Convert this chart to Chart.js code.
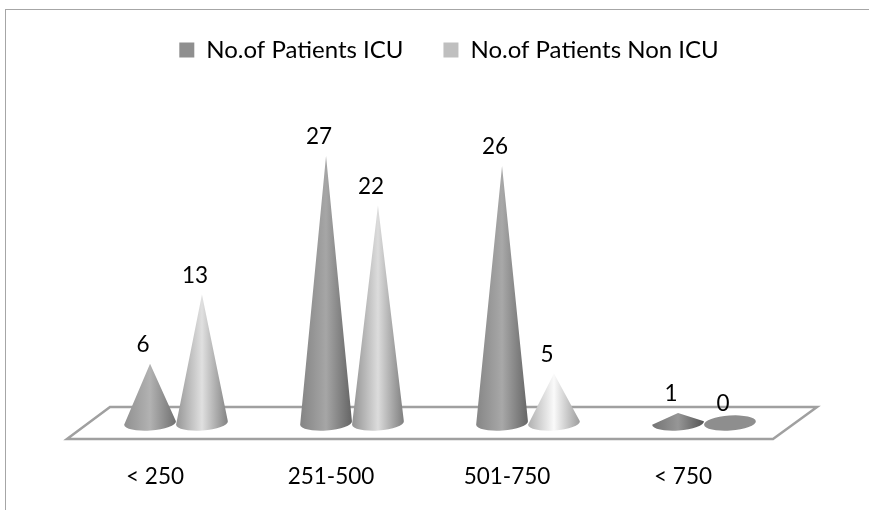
<!DOCTYPE html>
<html>
<head>
<meta charset="utf-8">
<script src="https://cdn.jsdelivr.net/npm/chart.js@4/dist/chart.umd.js"></script>
<style>
    html, body { margin: 0; padding: 0; background: #fff; overflow: hidden; }
    #wrap { position: relative; width: 869px; height: 510px; }
    #frame { position: absolute; left: 5px; top: 9px; right: 0; bottom: 0; border-left: 1px solid #a6a6a6; border-top: 1px solid #a6a6a6; }
    canvas { position: absolute; left: 0; top: 0; }
</style>
</head>
<body>
<div id="wrap">
    <div id="frame"></div>
    <canvas id="result-chart" width="869" height="510"></canvas>
</div>
<script>
const categories = ['< 250', '251-500', '501-750', '< 750'];
const icuValues = [6, 27, 26, 1];
const nonIcuValues = [13, 22, 5, 0];

// gray levels left / highlight / right, then a per cone brightness shift
const icuGrays = [140, 174, 108];
const nonIcuGrays = [152, 226, 132];
const icuShade = [4, -8, -6, -24];
const nonIcuShade = [-2, -6, 24, 0];
const FONT = { family: 'Lato', size: 22.5 };

function gray(v) {
    const g = Math.max(0, Math.min(255, Math.round(v)));
    return `rgb(${g},${g},${g})`;
}

class ConeController extends Chart.BarController {
    draw() {
        const ctx = this.chart.ctx;
        const ds = this.getDataset();
        this.getMeta().data.forEach((bar, i) => {
            const r = bar.width / 2;
            const shade = ds.shades[i];
            ctx.save();
            ctx.beginPath();
            ctx.moveTo(bar.x, bar.y);
            ctx.ellipse(bar.x, bar.base, r, 7.5, -0.07, Math.PI, 0, bar.y < bar.base - 8);
            if (bar.y >= bar.base - 8) {
                ctx.ellipse(bar.x, bar.base, r, 7.5, -0.07, 0, Math.PI);
            }
            ctx.closePath();
            if (ds.data[i] === 0) {
                ctx.fillStyle = '#8e8e8e';
            } else {
                const grad = ctx.createLinearGradient(bar.x - r, 0, bar.x + r, 0);
                grad.addColorStop(0, gray(ds.grays[0] + shade));
                grad.addColorStop(0.5, gray(ds.grays[1] + shade));
                grad.addColorStop(1, gray(ds.grays[2] + shade));
                ctx.fillStyle = grad;
            }
            ctx.fill();
            ctx.restore();
        });
    }
}
ConeController.id = 'cone';
ConeController.defaults = Chart.BarController.defaults;
ConeController.overrides = Chart.BarController.overrides;
Chart.register(ConeController);

const floorAndLabels = {
    id: 'floorAndLabels',
    afterLayout(chart) {
        chart.legend.left += 9;
        chart.legend.right += 9;
    },
    beforeDatasetsDraw(chart) {
        const { ctx, chartArea: a } = chart;
        ctx.save();
        ctx.strokeStyle = '#a0a0a0';
        ctx.lineWidth = 2.5;
        ctx.beginPath();
        ctx.moveTo(a.left - 21, a.bottom + 16);
        ctx.lineTo(a.left + 22, a.bottom - 16);
        ctx.lineTo(a.right + 25, a.bottom - 16);
        ctx.lineTo(a.right - 19, a.bottom + 16);
        ctx.closePath();
        ctx.stroke();
        ctx.restore();
    },
    afterDatasetsDraw(chart) {
        const ctx = chart.ctx;
        ctx.save();
        ctx.fillStyle = '#000';
        ctx.font = `${FONT.size}px ${FONT.family}`;
        ctx.textAlign = 'center';
        ctx.textBaseline = 'middle';
        chart.data.datasets.forEach((ds, d) => {
            chart.getDatasetMeta(d).data.forEach((bar, i) => {
                ctx.fillText(ds.data[i], bar.x - 7, bar.y - 19);
            });
        });
        ctx.restore();
    }
};

new Chart(document.getElementById('result-chart'), {
    type: 'cone',
    plugins: [floorAndLabels],
    data: {
        labels: categories,
        datasets: [{
            label: 'No.of Patients ICU',
            data: icuValues,
            backgroundColor: '#8f8f8f',
            grays: icuGrays,
            shades: icuShade,
            clip: false,
            barPercentage: 1,
            categoryPercentage: 0.59
        }, {
            label: 'No.of Patients Non ICU',
            data: nonIcuValues,
            backgroundColor: '#bfbfbf',
            grays: nonIcuGrays,
            shades: nonIcuShade,
            clip: false,
            barPercentage: 1,
            categoryPercentage: 0.59
        }]
    },
    options: {
        responsive: false,
        animation: false,
        layout: { padding: { left: 88, right: 77, top: -2, bottom: 0 } },
        plugins: {
            tooltip: { enabled: false },
            legend: {
                labels: {
                    boxWidth: 15,
                    boxHeight: 15,
                    padding: 40,
                    color: '#000',
                    font: { family: 'Lato', size: 24 }
                }
            }
        },
        scales: {
            x: {
                grid: { display: false },
                border: { display: false },
                afterFit(scale) { scale.height = 87; },
                ticks: { color: '#000', font: FONT, padding: 32, labelOffset: -21, maxRotation: 0 }
            },
            y: {
                display: false,
                min: 0,
                max: 35.5
            }
        }
    }
});
</script>
</body>
</html>
